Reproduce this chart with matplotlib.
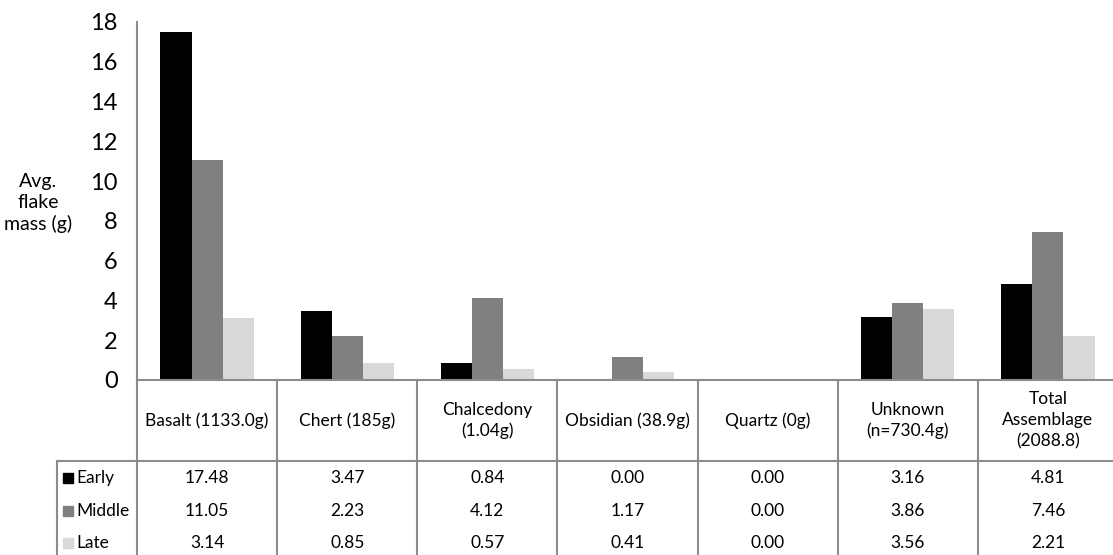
import matplotlib
matplotlib.use("Agg")
import matplotlib.pyplot as plt
from matplotlib.transforms import blended_transform_factory
import numpy as np

plt.rcParams['font.family'] = ['Lato', 'DejaVu Sans']

# ---- data ----
categories = ["Basalt (1133.0g)", "Chert (185g)", "Chalcedony\n(1.04g)", "Obsidian (38.9g)",
              "Quartz (0g)", "Unknown\n(n=730.4g)", "Total\nAssemblage\n(2088.8)"]
series_names = ["Early", "Middle", "Late"]
early = [17.48, 3.47, 0.84, 0.00, 0.00, 3.16, 4.81]
middle = [11.05, 2.23, 4.12, 1.17, 0.00, 3.86, 7.46]
late = [3.14, 0.85, 0.57, 0.41, 0.00, 3.56, 2.21]
yticks = [0, 2, 4, 6, 8, 10, 12, 14, 16, 18]
ylabel = "Avg.\nflake\nmass (g)"

# ---- style ----
colors = ["#000000", "#808080", "#D9D9D9"]
line_col = "#8C8C8C"
W, H = 1113, 555
fig = plt.figure(figsize=(W / 100, H / 100), dpi=100)

ax_left, ax_right, ax_top, ax_bottom = 137, 1118, 22, 380
ax = fig.add_axes([ax_left / W, 1 - ax_bottom / H, (ax_right - ax_left) / W, (ax_bottom - ax_top) / H])

x = np.arange(len(categories))
bw = 0.222
for i, vals in enumerate([early, middle, late]):
    ax.bar(x + (i - 1) * bw, vals, width=bw, color=colors[i], edgecolor='none', zorder=2)

ax.set_xlim(-0.5, len(categories) - 0.5)
ax.set_ylim(0, 18)
ax.set_yticks(yticks)
ax.set_yticklabels([str(t) for t in yticks], fontsize=17)
ax.set_xticks([])
ax.tick_params(axis='y', length=0, pad=14)
for s in ['top', 'right']:
    ax.spines[s].set_visible(False)
ax.spines['left'].set_color(line_col)
ax.spines['left'].set_linewidth(1.5)
ax.spines['bottom'].set_color(line_col)
ax.spines['bottom'].set_linewidth(1.5)

# y label (horizontal, left)
fig.text(38 / W, 1 - 203 / H, ylabel, ha='center', va='center', fontsize=14, linespacing=1.25)

# ---- data table ----
tr = blended_transform_factory(ax.transData, fig.transFigure)
def fy(py):
    return 1 - py / H
def dx(px):
    # pixel offset -> data units along x
    return (px - ax_left) / ((ax_right - ax_left) / len(categories)) - 0.5

header_bot = 461
row_y = [478, 511, 543]
lab_left = dx(57)
tfs = 12.5

# header bottom line
ax.plot([lab_left, len(categories) - 0.5], [fy(header_bot)] * 2, color=line_col, lw=1.5,
        transform=tr, clip_on=False)
# vertical lines
for k in range(len(categories)):
    ax.plot([k - 0.5] * 2, [fy(ax_bottom), fy(H + 5)], color=line_col, lw=1.5,
            transform=tr, clip_on=False)
ax.plot([lab_left] * 2, [fy(header_bot), fy(H + 5)], color=line_col, lw=1.5,
        transform=tr, clip_on=False)

# header texts
for k, c in enumerate(categories):
    ax.text(k, fy((ax_bottom + header_bot) / 2), c, ha='center', va='center', fontsize=tfs,
            transform=tr, linespacing=1.4)

# rows
for r, (name, vals) in enumerate(zip(series_names, [early, middle, late])):
    ax.plot([dx(68)], [fy(row_y[r])], marker='s', markersize=7.5, color=colors[r],
            transform=tr, clip_on=False, linestyle='none')
    ax.text(dx(76), fy(row_y[r]), name, ha='left', va='center', fontsize=tfs, transform=tr)
    for k, v in enumerate(vals):
        ax.text(k, fy(row_y[r]), f"{v:.2f}", ha='center', va='center', fontsize=tfs, transform=tr)

fig.savefig("out.png", dpi=100)
